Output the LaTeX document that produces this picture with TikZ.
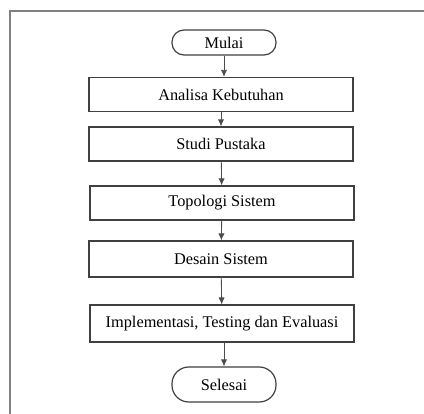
\documentclass[tikz,border=0pt]{standalone}
\usepackage{fontspec}
\setmainfont{Liberation Serif}
\usetikzlibrary{arrows.meta}

\tikzset{
  langkah/.style={draw=black!75, line width=0.85pt, fill=white, minimum width=6.6cm, minimum height=0.85cm, font=\fontsize{11.6}{13}\selectfont},
  terminal/.style={draw=black!75, line width=0.85pt, fill=white, minimum width=2.6cm, font=\fontsize{11.6}{13}\selectfont},
  alur/.style={draw=black!70, line width=0.6pt, -{Latex[length=5pt,width=4.5pt]}}
}

\begin{document}
\begin{tikzpicture}[x=0.025cm, y=-0.025cm]
			%%%%% bingkai %%%%%
			\useasboundingbox (0, 0) rectangle (424, 414);
			\draw[line width=1.3pt, color=black!50] (424, 11) -- (10, 11) -- (10, 414);
			
			%%%%% langkah %%%%%
			\node[terminal, minimum height=0.625cm, rounded corners=0.3cm] (mulai) at (224, 42.5) {Mulai};
			\node[langkah] (analisa) at (221, 94.5) {Analisa Kebutuhan};
			\node[langkah] (studi) at (221, 144) {Studi Pustaka};
			\node[langkah] (topologi) at (222, 203) {Topologi Sistem};
			\node[langkah, minimum height=0.9cm] (desain) at (221, 259) {Desain Sistem};
			\node[langkah, minimum height=0.92cm] (implementasi) at (222, 323.5) {Implementasi, Testing dan Evaluasi};
			\node[terminal, minimum height=0.875cm, rounded corners=0.42cm] (selesai) at (224, 384.5) {Selesai};
			
			%%%%% panah %%%%%
			\draw[alur] (mulai) -- (mulai |- analisa.north);
			\draw[alur] (analisa) -- (studi);
			\draw[alur] (studi) -- (topologi);
			\draw[alur] (topologi) -- (desain);
			\draw[alur] (desain) -- (implementasi);
			\draw[alur] (implementasi.south -| selesai) -- (selesai);
\end{tikzpicture}
\end{document}
